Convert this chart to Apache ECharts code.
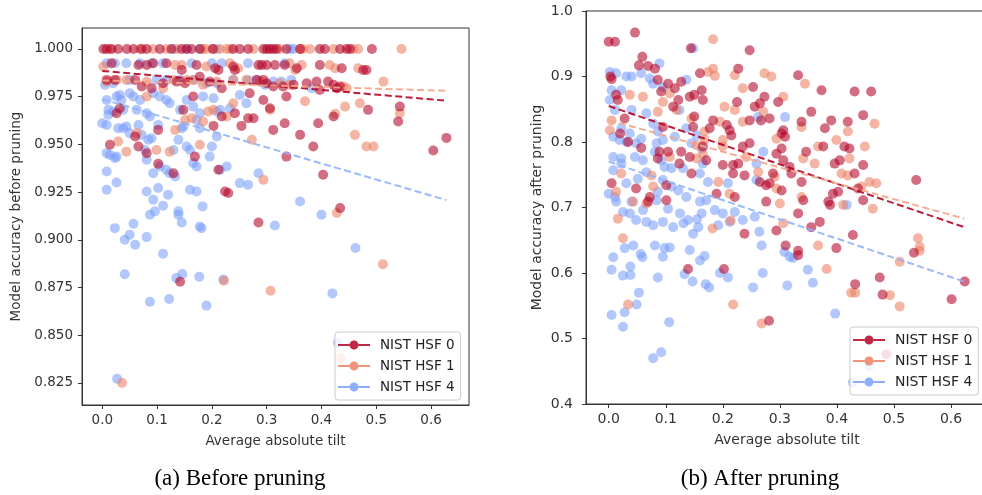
<!DOCTYPE html>
<html>
<head>
<meta charset="utf-8">
<script src="https://cdn.jsdelivr.net/npm/echarts@6/dist/echarts.min.js"></script>
<style>
html,body{margin:0;padding:0;background:#fff;}
#chart{width:982px;height:495px;}
</style>
</head>
<body>
<div id="chart"></div>
<script>
// ---------- DATA ----------
const seriesNames = ['NIST HSF 0', 'NIST HSF 1', 'NIST HSF 4'];
const xTicks = [0, 0.1, 0.2, 0.3, 0.4, 0.5, 0.6];
const yTicksBefore = [0.825, 0.85, 0.875, 0.9, 0.925, 0.95, 0.975, 1.0];
const yTicksAfter = [0.4, 0.5, 0.6, 0.7, 0.8, 0.9, 1.0];
const xLabel = 'Average absolute tilt';
const yLabelBefore = 'Model accuracy before pruning';
const yLabelAfter = 'Model accuracy after pruning';
const captionA = '(a) Before pruning';
const captionB = '(b) After pruning';

// Before pruning
const before0 = [
[0.002,1.0],[0.008,1.0],[0.017,1.0],[0.029,1.0],[0.045,1.0],[0.057,1.0],[0.072,1.0],[0.081,1.0],[0.105,1.0],[0.126,1.0],[0.145,1.0],[0.154,1.0],[0.163,1.0],[0.178,1.0],[0.202,1.0],[0.239,1.0],[0.251,1.0],[0.266,1.0],[0.294,1.0],[0.300,1.0],[0.306,1.0],[0.312,1.0],[0.318,1.0],[0.336,1.0],[0.361,1.0],[0.397,1.0],[0.406,1.0],[0.434,1.0],[0.446,1.0],[0.452,1.0],[0.492,1.0],
[0.017,0.9925],[0.066,0.9916],[0.081,0.9916],[0.093,0.9925],[0.117,0.9925],[0.145,0.989],[0.172,0.9916],[0.206,0.9899],[0.212,0.989],[0.239,0.9908],[0.242,0.989],[0.285,0.9916],[0.291,0.9916],[0.300,0.9916],[0.315,0.9916],[0.333,0.9916],[0.355,0.9899],[0.437,0.9899],[0.476,0.989],[0.482,0.989],[0.397,0.9916],
[0.008,0.9838],[0.023,0.9838],[0.060,0.9838],[0.072,0.9803],[0.090,0.9794],[0.111,0.982],[0.136,0.9829],[0.151,0.982],[0.178,0.9855],[0.196,0.9829],[0.218,0.9794],[0.269,0.9768],[0.282,0.9838],[0.294,0.9838],[0.300,0.982],[0.312,0.9803],[0.330,0.9803],[0.336,0.9751],[0.349,0.9812],[0.373,0.982],[0.391,0.9829],[0.397,0.9785],[0.412,0.9829],[0.422,0.9812],[0.428,0.9794],[0.434,0.9803],
[0.014,0.9498],[0.026,0.9663],[0.032,0.9689],[0.060,0.9541],[0.066,0.9489],[0.081,0.9454],[0.102,0.9576],[0.102,0.9398],[0.130,0.9349],[0.148,0.9681],[0.166,0.9751],[0.169,0.9436],[0.203,0.9597],[0.212,0.9367],[0.218,0.9646],[0.224,0.9253],[0.230,0.9245],[0.242,0.9663],[0.254,0.9597],[0.266,0.9637],[0.276,0.9637],[0.285,0.9091],[0.294,0.9733],[0.306,0.9689],[0.312,0.9576],[0.333,0.9611],[0.336,0.9436],[0.361,0.9550],[0.385,0.9489],[0.394,0.9611],[0.403,0.9341],[0.422,0.9646],[0.434,0.9166],[0.485,0.9681],[0.543,0.9698],[0.540,0.9620],[0.604,0.9468],[0.628,0.9534],[0.142,0.8780]
];
const before1 = [
[0.014,1.0],[0.069,1.0],[0.093,1.0],[0.117,1.0],[0.136,1.0],[0.184,1.0],[0.190,1.0],[0.202,1.0],[0.215,1.0],[0.227,1.0],[0.233,1.0],[0.276,1.0],[0.324,1.0],[0.361,1.0],[0.367,1.0],[0.379,1.0],[0.422,1.0],[0.458,1.0],[0.467,1.0],[0.546,1.0],
[0.002,0.9908],[0.133,0.9916],[0.145,0.9916],[0.190,0.9908],[0.233,0.9925],[0.248,0.9899],[0.342,0.9925],[0.352,0.989],[0.364,0.9916],[0.415,0.9916],[0.425,0.9899],[0.467,0.9899],
[0.008,0.9829],[0.026,0.9838],[0.044,0.9838],[0.081,0.9829],[0.130,0.9838],[0.154,0.9838],[0.166,0.9838],[0.184,0.9812],[0.209,0.9829],[0.239,0.9838],[0.263,0.9838],[0.288,0.9829],[0.324,0.982],[0.342,0.9812],[0.440,0.9803],[0.446,0.9794],[0.513,0.9829],
[0.029,0.9515],[0.044,0.9462],[0.063,0.9559],[0.081,0.9751],[0.099,0.9471],[0.111,0.9794],[0.123,0.9462],[0.133,0.9576],[0.151,0.9628],[0.163,0.9637],[0.178,0.9498],[0.184,0.9620],[0.193,0.9672],[0.203,0.9681],[0.227,0.9646],[0.239,0.9716],[0.273,0.9524],[0.294,0.9314],[0.306,0.9681],[0.370,0.9726],[0.425,0.9660],[0.428,0.9140],[0.443,0.9698],[0.461,0.9550],[0.470,0.9716],[0.482,0.9489],[0.495,0.9489],[0.543,0.9663],
[0.222,0.8785],[0.512,0.8872],[0.307,0.8733],[0.036,0.8250],[0.435,0.8380]
];
const before4 = [
[0.130,1.0],[0.154,1.0],[0.178,1.0],[0.209,1.0],[0.343,1.0],[0.349,1.0],
[0.008,0.9925],[0.023,0.9925],[0.044,0.9925],[0.069,0.9925],[0.090,0.9925],[0.111,0.9925],[0.163,0.9925],[0.200,0.9925],[0.218,0.9925],[0.266,0.9925],[0.333,0.9925],
[0.005,0.9812],[0.020,0.982],[0.050,0.9838],[0.099,0.9838],[0.117,0.9838],[0.142,0.9838],[0.166,0.9838],[0.190,0.982],[0.209,0.982],[0.239,0.9838],[0.266,0.9838],[0.282,0.9838],[0.297,0.9812],[0.312,0.9829],[0.327,0.9829],[0.345,0.9838],[0.382,0.9794],
[0.000,0.9611],[0.008,0.9602],[0.008,0.9733],[0.011,0.9681],[0.011,0.9655],[0.020,0.9672],[0.026,0.9751],[0.032,0.9759],[0.035,0.9733],[0.038,0.9681],[0.050,0.9768],[0.057,0.9751],[0.063,0.9681],[0.069,0.9733],[0.081,0.9663],[0.087,0.9646],[0.093,0.9768],[0.105,0.9751],[0.117,0.9733],[0.123,0.9716],[0.142,0.9681],[0.154,0.9733],[0.166,0.9698],[0.172,0.9628],[0.178,0.9663],[0.184,0.9751],[0.203,0.9742],[0.209,0.9672],[0.215,0.9681],[0.233,0.9689],[0.251,0.9759],[0.263,0.9716],
[0.008,0.9454],[0.014,0.9445],[0.023,0.9428],[0.026,0.9436],[0.029,0.9585],[0.038,0.9585],[0.044,0.9594],[0.050,0.9559],[0.066,0.9602],[0.072,0.9550],[0.078,0.9471],[0.081,0.9419],[0.084,0.9524],[0.090,0.9532],[0.093,0.9349],[0.102,0.9602],[0.105,0.9384],[0.117,0.9367],[0.123,0.9349],[0.130,0.9471],[0.133,0.9332],[0.139,0.9524],[0.145,0.9585],[0.148,0.9594],[0.154,0.9489],[0.160,0.9471],[0.166,0.9402],[0.172,0.9384],[0.178,0.9585],[0.200,0.9489],[0.209,0.9541],[0.215,0.9367],[0.227,0.9384],[0.251,0.9297],[0.266,0.9288],[0.285,0.9349],[0.196,0.9436],
[0.008,0.9358],[0.008,0.9262],[0.026,0.9300],[0.023,0.9061],[0.041,0.9000],[0.050,0.9027],[0.057,0.9084],[0.060,0.8974],[0.081,0.9014],[0.081,0.9253],[0.087,0.9131],[0.093,0.9210],[0.096,0.9149],[0.102,0.9271],[0.111,0.9178],[0.120,0.9236],[0.139,0.9149],[0.139,0.9131],[0.145,0.9091],[0.160,0.9262],[0.172,0.9253],[0.178,0.9070],[0.181,0.9061],[0.183,0.9175],[0.361,0.9201],[0.400,0.9131],[0.315,0.9075],[0.462,0.8957],
[0.111,0.8927],[0.041,0.8819],[0.135,0.8800],[0.146,0.8820],[0.177,0.8806],[0.221,0.8792],[0.087,0.8675],[0.122,0.8690],[0.190,0.8655],[0.420,0.8719],[0.027,0.8271],[0.430,0.8460]
];

// After pruning
const after0 = [
[0.000,0.953],[0.011,0.953],[0.046,0.967],[0.005,0.896],[0.003,0.900],[0.013,0.872],[0.016,0.864],[0.028,0.836],[0.020,0.813],[0.034,0.800],[0.057,0.791],[0.048,0.729],[0.005,0.737],[0.059,0.930],[0.053,0.917],[0.069,0.916],[0.081,0.912],[0.086,0.895],[0.092,0.877],[0.104,0.889],[0.116,0.882],[0.127,0.892],[0.122,0.864],[0.113,0.854],[0.095,0.823],[0.089,0.785],[0.104,0.785],[0.086,0.775],[0.072,0.716],[0.069,0.709],[0.101,0.734],[0.101,0.711],[0.127,0.785],[0.124,0.767],[0.144,0.943],[0.160,0.905],[0.163,0.879],[0.142,0.869],[0.150,0.872],[0.150,0.839],[0.148,0.823],[0.165,0.864],[0.177,0.821],[0.183,0.833],[0.165,0.793],[0.171,0.772],[0.145,0.752],[0.142,0.777],[0.189,0.721],[0.221,0.716],[0.207,0.826],[0.212,0.818],[0.215,0.810],[0.225,0.861],[0.227,0.912],[0.200,0.765],[0.218,0.765],[0.218,0.752],[0.227,0.767],[0.238,0.749],[0.238,0.660],[0.247,0.940],[0.253,0.884],[0.256,0.854],[0.273,0.869],[0.265,0.859],[0.247,0.833],[0.267,0.833],[0.282,0.836],[0.247,0.798],[0.235,0.793],[0.265,0.739],[0.276,0.734],[0.282,0.737],[0.288,0.752],[0.297,0.861],[0.303,0.813],[0.306,0.818],[0.309,0.808],[0.294,0.782],[0.303,0.790],[0.306,0.772],[0.317,0.762],[0.320,0.752],[0.303,0.726],[0.276,0.709],[0.294,0.665],[0.332,0.902],[0.355,0.846],[0.338,0.831],[0.338,0.739],[0.341,0.711],[0.332,0.691],[0.346,0.785],[0.355,0.670],[0.370,0.678],[0.373,0.879],[0.379,0.821],[0.376,0.793],[0.390,0.833],[0.396,0.767],[0.405,0.772],[0.393,0.721],[0.402,0.724],[0.385,0.709],[0.388,0.704],[0.419,0.831],[0.413,0.793],[0.422,0.790],[0.431,0.877],[0.446,0.841],[0.446,0.765],[0.431,0.752],[0.437,0.729],[0.446,0.711],[0.460,0.877],[0.428,0.658],[0.539,0.742],
[0.139,0.606],[0.202,0.606],[0.310,0.642],[0.332,0.634],[0.332,0.627],[0.399,0.638],[0.432,0.583],[0.475,0.593],[0.480,0.567],[0.535,0.631],[0.601,0.560],[0.624,0.587],[0.281,0.527],[0.487,0.476]
];
const after1 = [
[0.037,0.872],[0.060,0.869],[0.005,0.833],[0.002,0.818],[0.022,0.752],[0.013,0.724],[0.043,0.709],[0.016,0.683],[0.025,0.653],[0.086,0.846],[0.075,0.749],[0.078,0.732],[0.066,0.706],[0.095,0.861],[0.107,0.874],[0.119,0.849],[0.107,0.777],[0.145,0.836],[0.154,0.775],[0.168,0.816],[0.154,0.795],[0.165,0.782],[0.168,0.803],[0.183,0.957],[0.183,0.912],[0.186,0.901],[0.174,0.907],[0.192,0.739],[0.195,0.831],[0.200,0.793],[0.212,0.721],[0.214,0.680],[0.203,0.854],[0.221,0.902],[0.235,0.882],[0.221,0.849],[0.235,0.831],[0.241,0.777],[0.200,0.803],[0.262,0.754],[0.273,0.905],[0.285,0.900],[0.271,0.846],[0.306,0.869],[0.294,0.805],[0.291,0.747],[0.294,0.729],[0.300,0.706],[0.306,0.676],[0.338,0.823],[0.341,0.775],[0.344,0.889],[0.338,0.716],[0.367,0.793],[0.361,0.767],[0.399,0.803],[0.411,0.704],[0.408,0.752],[0.419,0.816],[0.422,0.775],[0.419,0.749],[0.443,0.732],[0.449,0.793],[0.466,0.828],[0.457,0.739],[0.469,0.737],[0.463,0.698],[0.542,0.653],[0.545,0.640],[0.182,0.668],
[0.034,0.552],[0.218,0.552],[0.268,0.523],[0.382,0.606],[0.367,0.642],[0.425,0.570],[0.432,0.570],[0.493,0.566],[0.510,0.549],[0.510,0.617],[0.545,0.634]
];
const after4 = [
[0.002,0.907],[0.013,0.905],[0.031,0.900],[0.040,0.900],[0.022,0.879],[0.005,0.879],[0.002,0.864],[0.011,0.849],[0.040,0.849],[0.022,0.821],[0.008,0.808],[0.019,0.803],[0.031,0.800],[0.037,0.813],[0.048,0.798],[0.008,0.777],[0.022,0.775],[0.008,0.757],[0.022,0.767],[0.000,0.721],[0.011,0.716],[0.013,0.709],[0.031,0.737],[0.046,0.777],[0.057,0.805],[0.060,0.772],[0.066,0.754],[0.051,0.744],[0.040,0.709],[0.025,0.693],[0.037,0.691],[0.048,0.681],[0.060,0.696],[0.066,0.678],[0.078,0.673],[0.057,0.905],[0.072,0.897],[0.078,0.889],[0.089,0.920],[0.095,0.884],[0.066,0.844],[0.078,0.828],[0.086,0.816],[0.095,0.803],[0.084,0.798],[0.081,0.785],[0.092,0.772],[0.098,0.762],[0.095,0.742],[0.110,0.760],[0.110,0.732],[0.086,0.724],[0.084,0.711],[0.104,0.698],[0.095,0.678],[0.113,0.670],[0.122,0.726],[0.130,0.760],[0.136,0.716],[0.125,0.691],[0.139,0.681],[0.148,0.660],[0.148,0.943],[0.136,0.895],[0.124,0.849],[0.116,0.808],[0.136,0.821],[0.145,0.798],[0.154,0.810],[0.163,0.790],[0.165,0.767],[0.160,0.752],[0.160,0.709],[0.163,0.691],[0.157,0.670],[0.174,0.739],[0.171,0.711],[0.186,0.696],[0.192,0.673],[0.200,0.691],[0.209,0.737],[0.212,0.678],[0.221,0.693],[0.235,0.681],[0.256,0.686],[0.259,0.742],[0.259,0.767],[0.271,0.785],[0.262,0.838],[0.309,0.838],[0.417,0.704],[0.264,0.663],[0.131,0.676],[0.155,0.682],
[0.005,0.605],[0.008,0.624],[0.005,0.536],[0.025,0.596],[0.028,0.638],[0.038,0.597],[0.038,0.610],[0.043,0.642],[0.049,0.552],[0.053,0.570],[0.056,0.629],[0.059,0.624],[0.028,0.540],[0.025,0.518],[0.078,0.470],[0.092,0.479],[0.086,0.593],[0.081,0.642],[0.095,0.625],[0.098,0.638],[0.107,0.639],[0.106,0.525],[0.133,0.598],[0.142,0.635],[0.147,0.587],[0.160,0.619],[0.168,0.626],[0.170,0.583],[0.176,0.578],[0.195,0.600],[0.209,0.593],[0.253,0.578],[0.270,0.600],[0.268,0.642],[0.313,0.581],[0.308,0.632],[0.317,0.625],[0.323,0.623],[0.349,0.605],[0.358,0.585],[0.397,0.538],[0.428,0.433],[0.457,0.458]
];

// Linear trend lines (endpoints)
const trendBefore0 = [[0.0, 0.9885], [0.628, 0.9729]];
const trendBefore1 = [[0.0, 0.9835], [0.628, 0.9781]];
const trendBefore4 = [[0.0, 0.9737], [0.628, 0.9208]];
const trendAfter0 = [[0.0, 0.855], [0.623, 0.670]];
const trendAfter1 = [[0.0, 0.8335], [0.623, 0.683]];
const trendAfter4 = [[0.0, 0.770], [0.623, 0.587]];

// ---------- STYLE ----------
const colors = ['#b40426', '#ec8063', '#7b9ff9'];
const txt = '#333';
const fontFam = '"DejaVu Sans", sans-serif';

function scatter(name, data, gi, color) {
  return {
    type: 'scatter', name: name, data: data,
    xAxisIndex: gi, yAxisIndex: gi,
    symbol: 'circle', symbolSize: 10,
    itemStyle: { color: color, opacity: 0.58 },
    emphasis: { disabled: true },
    z: 2
  };
}
function trend(name, data, gi, color) {
  return {
    type: 'line', name: name, data: data,
    xAxisIndex: gi, yAxisIndex: gi,
    symbol: 'none', silent: true,
    lineStyle: { color: color, width: 2, type: [7, 3.5], opacity: 0.9 },
    z: 3
  };
}
function xAx(gi, min, max, fs) {
  return {
    type: 'value', gridIndex: gi, min: min, max: max,
    splitLine: { show: false },
    axisLine: { show: true, onZero: false, lineStyle: { color: txt, width: 1 } },
    axisTick: { show: true, length: 4, customValues: xTicks, lineStyle: { color: txt } },
    axisLabel: { customValues: xTicks, formatter: v => v.toFixed(1), fontSize: fs, color: txt, fontFamily: fontFam, margin: 8 },
    name: xLabel, nameLocation: 'middle', nameGap: 29,
    nameTextStyle: { fontSize: fs, color: txt, fontFamily: fontFam }
  };
}
function yAx(gi, min, max, ticks, dec, fs, gap, margin, name) {
  return {
    type: 'value', gridIndex: gi, min: min, max: max,
    splitLine: { show: false },
    axisLine: { show: true, onZero: false, lineStyle: { color: txt, width: 1 } },
    axisTick: { show: true, length: 4, customValues: ticks, lineStyle: { color: txt } },
    axisLabel: { customValues: ticks, formatter: v => v.toFixed(dec), fontSize: fs, color: txt, fontFamily: fontFam, margin: margin },
    name: name, nameLocation: 'middle', nameGap: gap,
    nameTextStyle: { fontSize: fs, color: txt, fontFamily: fontFam }
  };
}
const legendIcon = 'path://M0,4h11.5v2h-11.5z M20.5,4h11.5v2h-11.5z M20.5,5a4.5,4.5 0 1,1 -9,0a4.5,4.5 0 1,1 9,0z';
function legend(left, top, fs) {
  return {
    orient: 'vertical', left: left, top: top,
    data: seriesNames.map((n, i) => ({ name: n, icon: legendIcon, itemStyle: { color: colors[i], opacity: 0.85 } })),
    itemWidth: 32, itemHeight: 10, itemGap: 5,
    padding: [5, 6, 5, 3],
    backgroundColor: 'rgba(255,255,255,0.8)',
    borderColor: '#cccccc', borderWidth: 1, borderRadius: 3,
    textStyle: { fontSize: fs, color: '#222', fontFamily: fontFam, lineHeight: 16, padding: [0, 0, 0, 5] },
    selectedMode: false
  };
}

const option = {
  animation: false,
  backgroundColor: '#fff',
  grid: [
    { left: 82, top: 28, width: 387, height: 377, show: true, borderColor: txt, borderWidth: 1, backgroundColor: 'transparent', outerBoundsMode: 'none' },
    { left: 586, top: 11, width: 402, height: 393, show: true, borderColor: txt, borderWidth: 1, backgroundColor: 'transparent', outerBoundsMode: 'none' }
  ],
  xAxis: [xAx(0, -0.0370, 0.6692, 13.5), xAx(1, -0.0398, 0.6648, 14)],
  yAxis: [
    yAx(0, 0.8134, 1.0110, yTicksBefore, 3, 13.5, 59, 9, yLabelBefore),
    yAx(1, 0.4, 1.0, yTicksAfter, 1, 14, 42, 13, yLabelAfter)
  ],
  legend: [legend(335, 332, 13.5), legend(850, 327, 14)],
  series: [
    scatter(seriesNames[2], before4, 0, colors[2]),
    scatter(seriesNames[1], before1, 0, colors[1]),
    scatter(seriesNames[0], before0, 0, colors[0]),
    scatter(seriesNames[2], after4, 1, colors[2]),
    scatter(seriesNames[1], after1, 1, colors[1]),
    scatter(seriesNames[0], after0, 1, colors[0]),
    trend('trend b0', trendBefore0, 0, colors[0]),
    trend('trend b1', trendBefore1, 0, '#f4a58a'),
    trend('trend b4', trendBefore4, 0, '#8fb1fb'),
    trend('trend a0', trendAfter0, 1, colors[0]),
    trend('trend a1', trendAfter1, 1, '#f4a58a'),
    trend('trend a4', trendAfter4, 1, '#8fb1fb')
  ],
  graphic: [
    { type: 'text', x: 240, y: 479, style: { text: captionA, textAlign: 'center', textVerticalAlign: 'middle', font: '23px "Liberation Serif", "Times New Roman", serif', fill: '#000' } },
    { type: 'text', x: 760, y: 479, style: { text: captionB, textAlign: 'center', textVerticalAlign: 'middle', font: '23px "Liberation Serif", "Times New Roman", serif', fill: '#000' } }
  ]
};

const chart = echarts.init(document.getElementById('chart'), null, { renderer: 'canvas' });
chart.setOption(option);
</script>
</body>
</html>
